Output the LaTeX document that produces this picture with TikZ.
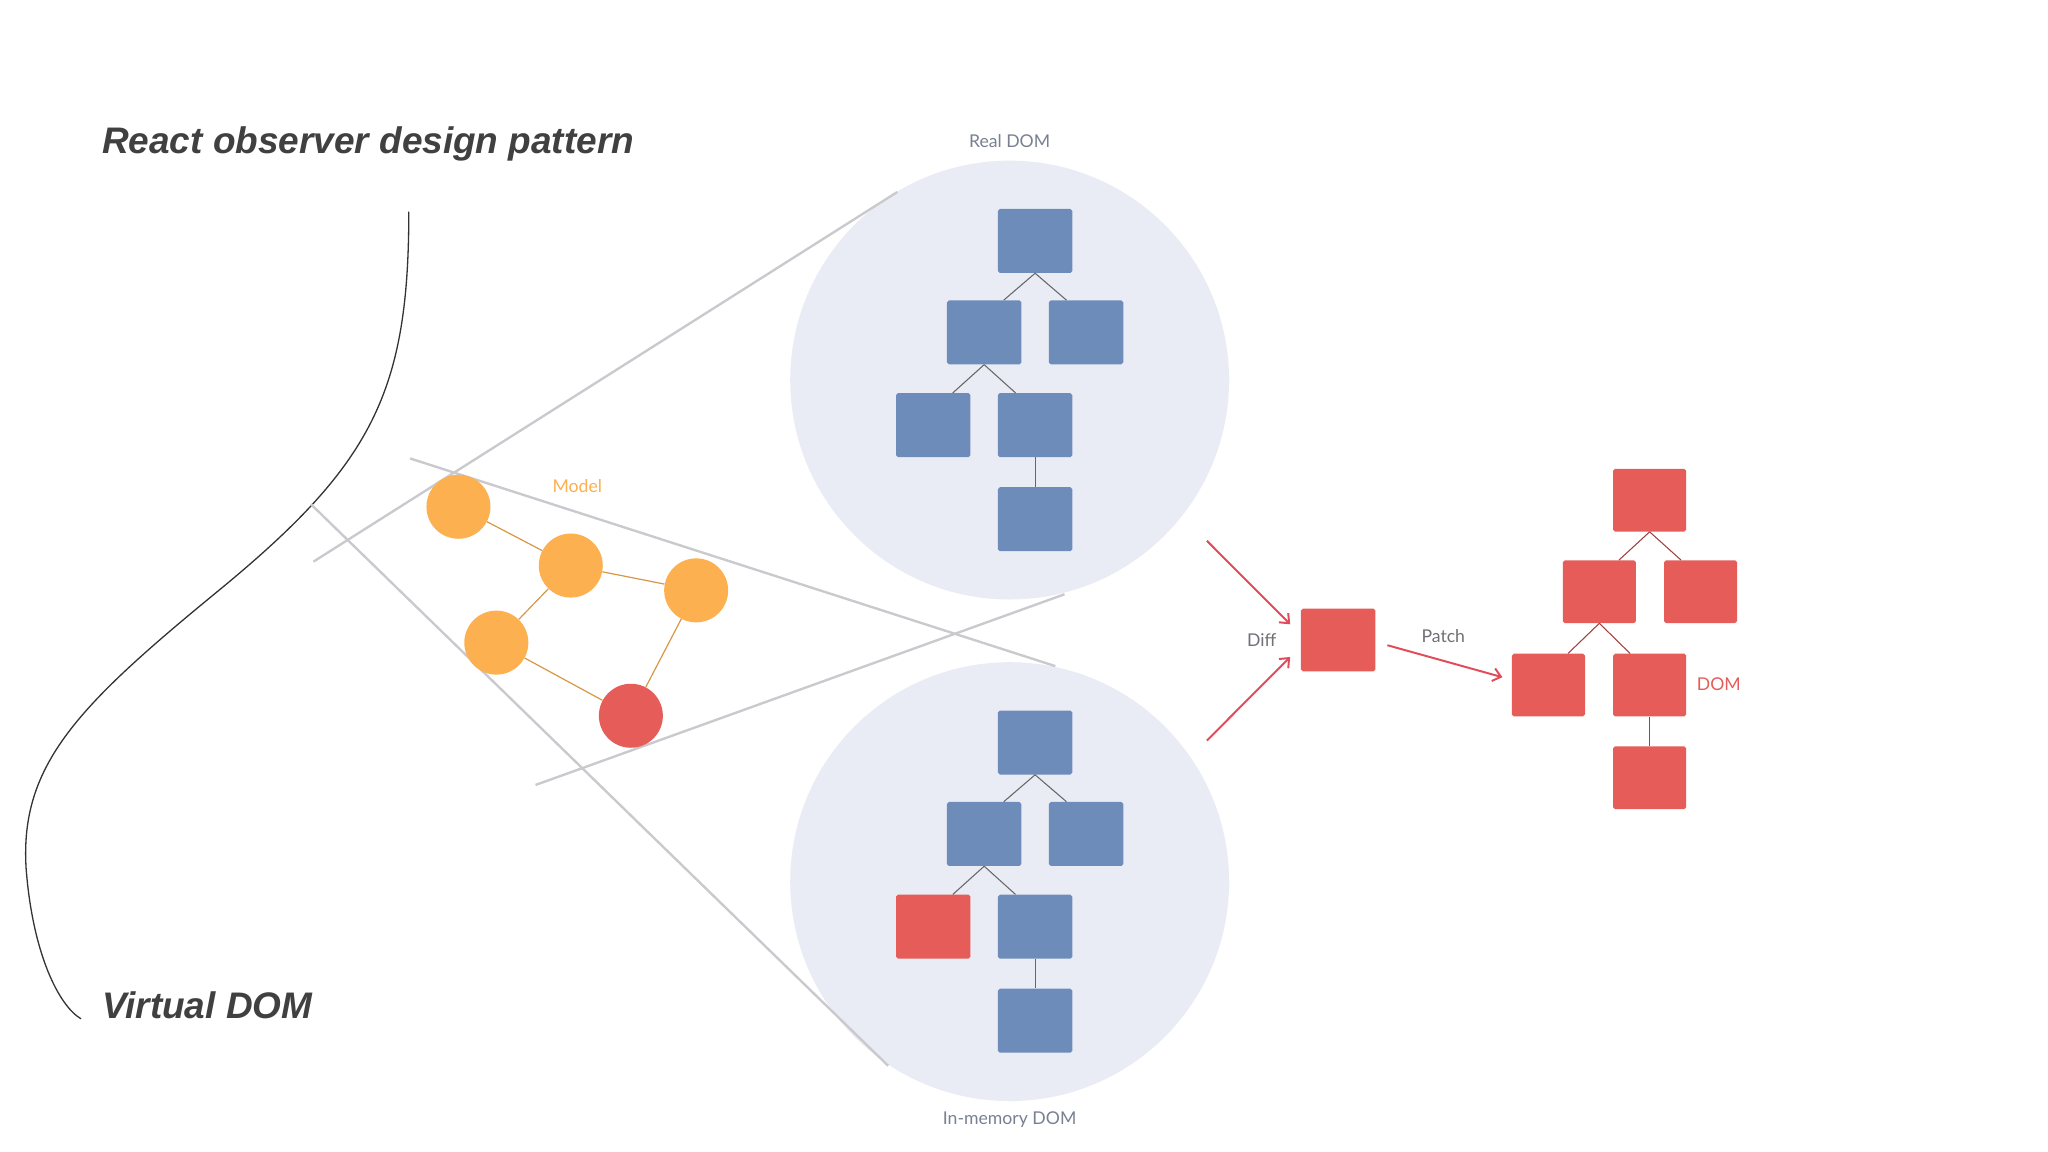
\documentclass[tikz,border=0pt]{standalone}
\usepackage{fontspec}
\setmainfont{Liberation Sans}
\newfontfamily\labelfont{Lato}
\usetikzlibrary{arrows.meta}
\definecolor{boxblue}{RGB}{109,140,186}
\definecolor{boxred}{RGB}{229,92,88}
\definecolor{orng}{RGB}{252,176,79}
\definecolor{halo}{RGB}{233,236,244}
\definecolor{guide}{RGB}{201,201,206}
\definecolor{arrred}{RGB}{226,76,90}
\definecolor{titlegray}{RGB}{64,64,64}
\definecolor{labgray}{RGB}{112,112,118}
\definecolor{labblue}{RGB}{120,128,145}
\begin{document}
\begin{tikzpicture}[x=1pt,y=-1pt,
  dombox/.style={draw=none,minimum width=57pt,minimum height=49pt,inner sep=0pt,rounded corners=1.5pt},
  bluebox/.style={dombox,fill=boxblue},
  redbox/.style={dombox,fill=boxred},
  blueedge/.style={draw=black!60,line width=0.8pt},
  rededge/.style={draw=boxred!70!black,line width=0.8pt},
  bigcircle/.style={circle,fill=halo,minimum size=336pt,inner sep=0pt},
  dot/.style={circle,fill=orng,minimum size=49pt,inner sep=0pt},
  dotedge/.style={draw=orng!85!black,line width=0.9pt},
  guideline/.style={draw=guide,line width=1.8pt},
  arr/.style={draw=arrred,line width=1.5pt,-{Straight Barb[length=6pt,width=10pt]}},
  titletext/.style={font=\fontsize{28.3}{32}\selectfont\bfseries\itshape,text=titlegray,inner sep=0pt,anchor=west},
  smalllab/.style={font=\labelfont\fontsize{13.5}{15}\selectfont,inner sep=0pt}
]
\useasboundingbox (0,0) rectangle (1568,882);
\fill[white] (0,0) rectangle (1568,882);

% titles
\node[titletext] (title) at (78,110) {React observer design pattern};
\node[titletext] (vdom) at (78,770) {Virtual DOM};

% brace-like curve
\coordinate (c1) at (313,162);
\coordinate (c2) at (62,780);
\draw[black!80,line width=1pt] (c1) .. controls (313,300) and (285,355) .. (170,450)
  .. controls (60,540) and (15,585) .. (20,665) .. controls (25,730) and (45,770) .. (c2);

% big circles
\node[bigcircle] (realc) at (773,291) {};
\node[bigcircle] (memc) at (773,675) {};
\node[smalllab,text=labblue] (reallab) at (773,108) {Real DOM};
\node[smalllab,text=labblue] (memlab) at (773,857) {In-memory DOM};

% guide lines
\coordinate (g1a) at (240,430); \coordinate (g1b) at (687,147);
\coordinate (g2a) at (314,351); \coordinate (g2b) at (808,510);
\coordinate (g3a) at (238,386); \coordinate (g3b) at (680,816);
\coordinate (g4a) at (410,601); \coordinate (g4b) at (815,455);
\draw[guideline] (g1a) -- (g1b);
\draw[guideline] (g2a) -- (g2b);
\draw[guideline] (g3a) -- (g3b);
\draw[guideline] (g4a) -- (g4b);

% model graph
\node[dot] (m1) at (351,388) {};
\node[dot] (m2) at (437,433) {};
\node[dot] (m3) at (533,452) {};
\node[dot] (m4) at (380,492) {};
\node[dot,fill=boxred] (m5) at (483,548) {};
\draw[dotedge] (m1) -- (m2);
\draw[dotedge] (m2) -- (m3);
\draw[dotedge] (m2) -- (m4);
\draw[dotedge] (m4) -- (m5);
\draw[dotedge] (m3) -- (m5);
\node[smalllab,text=orng] (model) at (442,372) {Model};

% real DOM tree
\node[bluebox] (a1) at (792.5,184.5) {};
\node[bluebox] (a2) at (753.5,254.5) {};
\node[bluebox] (a3) at (831.5,254.5) {};
\node[bluebox] (a4) at (714.5,325.5) {};
\node[bluebox] (a5) at (792.5,325.5) {};
\node[bluebox] (a6) at (792.5,397.5) {};
\draw[blueedge] (a1.south) -- ([xshift=15pt]a2.north);
\draw[blueedge] (a1.south) -- ([xshift=-15pt]a3.north);
\draw[blueedge] (a2.south) -- ([xshift=15pt]a4.north);
\draw[blueedge] (a2.south) -- ([xshift=-15pt]a5.north);
\draw[blueedge] (a5.south) -- (a6.north);

% in-memory DOM tree
\node[bluebox] (b1) at (792.5,568.5) {};
\node[bluebox] (b2) at (753.5,638.5) {};
\node[bluebox] (b3) at (831.5,638.5) {};
\node[redbox] (b4) at (714.5,709.5) {};
\node[bluebox] (b5) at (792.5,709.5) {};
\node[bluebox] (b6) at (792.5,781.5) {};
\draw[blueedge] (b1.south) -- ([xshift=15pt]b2.north);
\draw[blueedge] (b1.south) -- ([xshift=-15pt]b3.north);
\draw[blueedge] (b2.south) -- ([xshift=15pt]b4.north);
\draw[blueedge] (b2.south) -- ([xshift=-15pt]b5.north);
\draw[blueedge] (b5.south) -- (b6.north);

% diff
\node[redbox,minimum height=48pt] (diff) at (1024.5,490) {};
\node[smalllab,text=labgray] (difflab) at (966,490) {Diff};
\coordinate (d1) at (924,414);
\coordinate (d2) at (924,567);
\draw[arr] (d1) -- ([xshift=-8pt,yshift=12pt]diff.west);
\draw[arr] (d2) -- ([xshift=-8pt,yshift=-13pt]diff.west);

% DOM tree
\node[redbox,minimum width=56pt,minimum height=48pt] (r1) at (1263,383) {};
\node[redbox,minimum width=56pt,minimum height=48pt] (r2) at (1224.5,453) {};
\node[redbox,minimum width=56pt,minimum height=48pt] (r3) at (1302,453) {};
\node[redbox,minimum width=56pt,minimum height=48pt] (r4) at (1185.5,524.5) {};
\node[redbox,minimum width=56pt,minimum height=48pt] (r5) at (1263,524.5) {};
\node[redbox,minimum width=56pt,minimum height=48pt] (r6) at (1263,595.5) {};
\draw[rededge] (r1.south) -- ([xshift=15pt]r2.north);
\draw[rededge] (r1.south) -- ([xshift=-15pt]r3.north);
\draw[rededge] (r2.south) -- ([xshift=15pt]r4.north);
\draw[rededge] (r2.south) -- ([xshift=-15pt]r5.north);
\draw[rededge] (r5.south) -- (r6.north);
\node[smalllab,text=boxred] (domlab) at (1316,524) {DOM};

% patch
\draw[arr] ([xshift=9pt,yshift=-4pt]diff.east) -- ([xshift=-7pt,yshift=6pt]r4.west);
\node[smalllab,text=labgray] (patchlab) at (1105,487) {Patch};
\end{tikzpicture}
\end{document}
